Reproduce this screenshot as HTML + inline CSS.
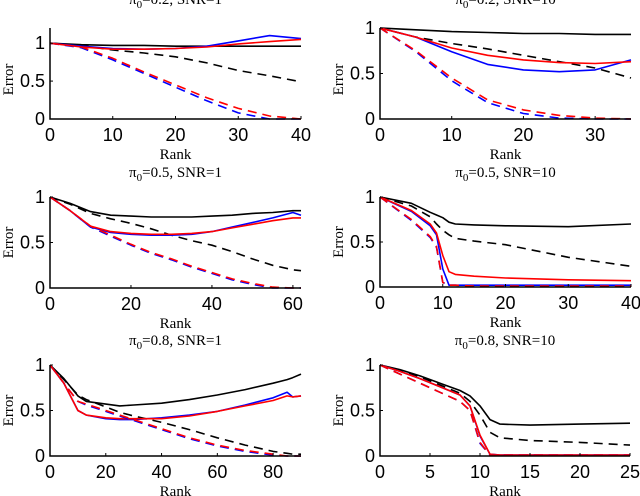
<!DOCTYPE html>
<html><head><meta charset="utf-8">
<style>
html,body{margin:0;padding:0;background:#fff;}
svg{display:block;}
.tk{font-family:"Liberation Sans",sans-serif;font-size:18px;fill:#000;}
.lb{font-family:"Liberation Serif",serif;font-size:15px;fill:#000;}
</style></head>
<body>
<svg id="fig" width="640" height="496" viewBox="0 0 640 496"></svg>
<script>
// ---- data ----
const titles = ["0.2, SNR=1","0.2, SNR=10","0.5, SNR=1","0.5, SNR=10","0.8, SNR=1","0.8, SNR=10"];
const xMaxes = [40,35,62,40,90,25];
const yMaxes = [1.2,1,1,1,1,1];
const xTicks = [[0,10,20,30,40],[0,10,20,30],[0,20,40,60],[0,10,20,30,40],[0,20,40,60,80],[0,5,10,15,20,25]];
const yTicks = [0,0.5,1];
const yTickLabels = ["0","0.5","1"];

// panel 1
const p1x = [0,5,10,15,20,25,30,35,40];
const p1BlackSolid = [1,0.98,0.97,0.97,0.96,0.96,0.96,0.96,0.96];
const p1BlackDash = [1,0.97,0.91,0.87,0.82,0.74,0.64,0.57,0.49];
const p1BlueSolid = [1,0.96,0.93,0.92,0.93,0.96,1.03,1.1,1.06];
const p1RedSolid = [1,0.95,0.92,0.92,0.93,0.95,0.99,1.02,1.05];
const p1BlueDash = [1,0.94,0.78,0.6,0.42,0.24,0.08,0,0];
const p1RedDash = [1,0.95,0.8,0.62,0.45,0.28,0.14,0.04,0];
// panel 2
const p2x = [0,5,10,15,20,25,30,35];
const p2BlackSolid = [1,0.98,0.96,0.95,0.94,0.94,0.93,0.93];
const p2BlackDash = [1,0.9,0.83,0.77,0.7,0.63,0.56,0.45];
const p2BlueSolid = [1,0.9,0.74,0.6,0.54,0.52,0.54,0.65];
const p2RedSolid = [1,0.9,0.78,0.7,0.65,0.62,0.61,0.63];
const p2BlueDash = [1,0.74,0.42,0.18,0.06,0.01,0,0];
const p2RedDash = [1,0.75,0.45,0.21,0.1,0.04,0.01,0];
// panel 3
const p3x = [0,5,10,15,20,25,30,35,40,45,50,55,60,62];
const p3BlackSolid = [1,0.93,0.84,0.8,0.79,0.78,0.78,0.78,0.79,0.8,0.82,0.83,0.85,0.85];
const p3BlackDash = [1,0.92,0.82,0.76,0.71,0.65,0.58,0.52,0.47,0.4,0.32,0.25,0.2,0.19];
const p3BlueSolid = [1,0.85,0.67,0.61,0.59,0.58,0.58,0.59,0.62,0.67,0.72,0.77,0.83,0.8];
const p3RedSolid = [1,0.85,0.68,0.62,0.6,0.59,0.59,0.6,0.62,0.66,0.7,0.74,0.77,0.77];
const p3BlueDash = [1,0.85,0.67,0.57,0.47,0.38,0.31,0.23,0.16,0.09,0.04,0,0,0];
const p3RedDash = [1,0.85,0.68,0.58,0.48,0.39,0.32,0.24,0.17,0.1,0.05,0.01,0,0];
// panel 4
const p4x = [0,5,8,9,10,11,12,15,20,30,40];
const p4BlackSolid = [1,0.93,0.83,0.8,0.77,0.72,0.7,0.69,0.68,0.67,0.7];
const p4BlackDash = [1,0.9,0.78,0.7,0.63,0.58,0.54,0.51,0.47,0.33,0.23];
const p4BlueSolid = [1,0.84,0.68,0.58,0.2,0.02,0.02,0.02,0.02,0.02,0.02];
const p4RedSolid = [1,0.85,0.7,0.6,0.35,0.17,0.14,0.12,0.1,0.08,0.07];
const p4BlueDash = [1,0.74,0.55,0.44,0.05,0.02,0.02,0.01,0.01,0.01,0.01];
const p4RedDash = [1,0.75,0.56,0.45,0.05,0.02,0.02,0.01,0.01,0.01,0.01];
// panel 5
const p5x = [0,5,10,13,20,25,30,40,50,60,70,80,85,87,90];
const p5BlackSolid = [1,0.85,0.66,0.6,0.57,0.55,0.56,0.58,0.62,0.67,0.73,0.8,0.84,0.86,0.9];
const p5BlackDash = [1,0.84,0.67,0.62,0.54,0.48,0.44,0.37,0.29,0.2,0.12,0.05,0.03,0.02,0.02];
const p5BlueSolid = [1,0.8,0.5,0.45,0.41,0.4,0.4,0.42,0.45,0.49,0.56,0.64,0.7,0.65,0.66];
const p5RedSolid = [1,0.8,0.5,0.45,0.42,0.41,0.41,0.41,0.44,0.49,0.55,0.61,0.66,0.65,0.66];
const p5BlueDash = [1,0.8,0.6,0.56,0.49,0.44,0.39,0.29,0.19,0.11,0.05,0.01,0,0,0];
const p5RedDash = [1,0.8,0.6,0.57,0.5,0.45,0.4,0.3,0.2,0.12,0.06,0.02,0,0,0];
// panel 6
const p6x = [0,2,4,6,8,9,10,11,12,15,20,25];
const p6BlackSolid = [1,0.95,0.88,0.8,0.72,0.66,0.55,0.4,0.35,0.34,0.35,0.36];
const p6BlackDash = [1,0.94,0.87,0.78,0.69,0.6,0.45,0.26,0.2,0.17,0.15,0.12];
const p6BlueSolid = [1,0.93,0.85,0.76,0.67,0.55,0.22,0.02,0.01,0.01,0.01,0.01];
const p6RedSolid = [1,0.93,0.85,0.76,0.67,0.55,0.23,0.02,0.01,0.01,0.01,0.01];
const p6BlueDash = [1,0.9,0.8,0.7,0.6,0.5,0.14,0.01,0.01,0.01,0.01,0.01];
const p6RedDash = [1,0.9,0.8,0.7,0.6,0.5,0.15,0.01,0.01,0.01,0.01,0.01];

const panelX = [p1x,p2x,p3x,p4x,p5x,p6x];
const panelSeries = [
 [p1BlackSolid,p1BlackDash,p1BlueSolid,p1RedSolid,p1BlueDash,p1RedDash],
 [p2BlackSolid,p2BlackDash,p2BlueSolid,p2RedSolid,p2BlueDash,p2RedDash],
 [p3BlackSolid,p3BlackDash,p3BlueSolid,p3RedSolid,p3BlueDash,p3RedDash],
 [p4BlackSolid,p4BlackDash,p4BlueSolid,p4RedSolid,p4BlueDash,p4RedDash],
 [p5BlackSolid,p5BlackDash,p5BlueSolid,p5RedSolid,p5BlueDash,p5RedDash],
 [p6BlackSolid,p6BlackDash,p6BlueSolid,p6RedSolid,p6BlueDash,p6RedDash]
];
const seriesNames = ["black-solid","black-dashed","blue-solid","red-solid","blue-dashed","red-dashed"];

// ---- layout ----
const NS = "http://www.w3.org/2000/svg";
const fig = document.getElementById("fig");
const geom = [
 {l:50,r:301,t:28,b:119},{l:380,r:631,t:28,b:119},
 {l:50,r:301,t:197,b:288},{l:380,r:631,t:197,b:287},
 {l:50,r:301,t:365,b:456},{l:380,r:630,t:365,b:456}
];
const styles = [
 {c:"#000",d:""},{c:"#000",d:"9,6"},{c:"#0000ff",d:""},{c:"#ff0000",d:""},{c:"#0000ff",d:"9,6"},{c:"#ff0000",d:"9,6"}
];
function mk(tag, attrs, parent){
  const e=document.createElementNS(NS,tag);
  for(const k in attrs) e.setAttribute(k,attrs[k]);
  (parent||fig).appendChild(e); return e;
}
geom.forEach((g,i)=>{
  const grp = mk("g",{});
  
  
  const xs = v => g.l + v/xMaxes[i]*(g.r-g.l);
  const ys = v => g.b - v/yMaxes[i]*(g.b-g.t);
  panelSeries[i].forEach((s,j)=>{
    const pts = s.map((v,k)=>xs(panelX[i][k]).toFixed(1)+","+ys(v).toFixed(1)).join(" ");
    const pl = mk("polyline",{points:pts,fill:"none",stroke:styles[j].c,"stroke-width":1.6,"stroke-dasharray":styles[j].d,"stroke-linejoin":"round"},grp);
    
    
  });
  const ax = mk("path",{d:`M${g.l},${g.t} V${g.b} H${g.r}`,fill:"none",stroke:"#000","stroke-width":1.5},grp);
  
  
  xTicks[i].forEach(v=>{
    const x=xs(v);
    mk("line",{x1:x,x2:x,y1:g.b,y2:g.b-3,stroke:"#000"},grp);
    const t=mk("text",{x:x,y:g.b+22,"text-anchor":"middle",class:"tk"},grp);
    t.textContent=v;
    
    
  });
  yTicks.forEach((v,k)=>{
    const y=ys(v);
    mk("line",{x1:g.l,x2:g.l+3,y1:y,y2:y,stroke:"#000"},grp);
    const t=mk("text",{x:g.l-5,y:y+6,"text-anchor":"end",class:"tk"},grp);
    t.textContent=yTickLabels[k];
    
    
  });
  const xl=mk("text",{x:(g.l+g.r)/2,y:g.b+40,"text-anchor":"middle",class:"lb"},grp);
  xl.textContent="Rank";
  
  
  const yx=g.l-37, yy=(g.t+g.b)/2+ (i<2?6:0);
  const yl=mk("text",{x:yx,y:yy,"text-anchor":"middle",class:"lb",transform:`rotate(-90 ${yx} ${yy})`},grp);
  yl.textContent="Error";
  
  
  const ty = i<2 ? 4 : g.t-20;
  const tt=mk("text",{x:(g.l+g.r)/2,y:ty,"text-anchor":"middle",class:"lb"},grp);
  tt.innerHTML='π<tspan dy="4" font-size="11">0</tspan><tspan dy="-4">='+titles[i]+'</tspan>';
  
  
});
</script>
</body></html>
